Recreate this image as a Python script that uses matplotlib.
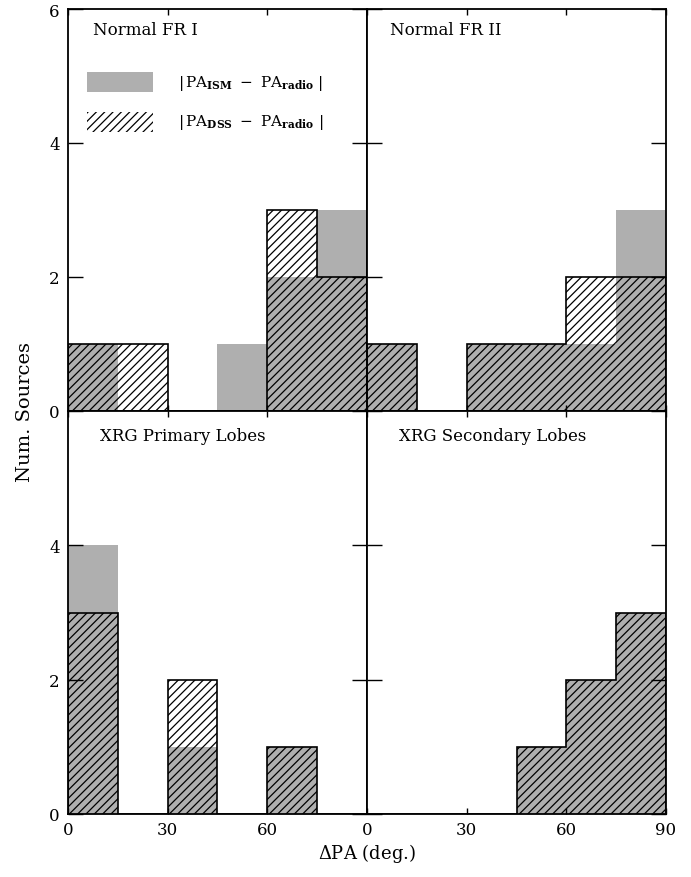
import numpy as np
import matplotlib
matplotlib.use('Agg')
import matplotlib.pyplot as plt
from matplotlib.patches import Rectangle

plt.rcParams['font.family'] = ['DejaVu Serif']
plt.rcParams['mathtext.fontset'] = 'dejavuserif'
plt.rcParams['hatch.linewidth'] = 0.9

# bin edges in degrees
edges = [0, 15, 30, 45, 60, 75, 90]

panel_titles = ['Normal FR I', 'Normal FR II', 'XRG Primary Lobes', 'XRG Secondary Lobes']

# |PA_ISM - PA_radio| counts per bin
ism_fr1 = [1, 0, 0, 1, 2, 3]
ism_fr2 = [1, 0, 1, 1, 1, 3]
ism_xrg_pri = [4, 0, 1, 0, 1, 0]
ism_xrg_sec = [0, 0, 0, 1, 2, 3]

# |PA_DSS - PA_radio| counts per bin
dss_fr1 = [1, 1, 0, 0, 3, 2]
dss_fr2 = [1, 0, 1, 1, 2, 2]
dss_xrg_pri = [3, 0, 2, 0, 1, 0]
dss_xrg_sec = [0, 0, 0, 1, 2, 3]

ism_all = [ism_fr1, ism_fr2, ism_xrg_pri, ism_xrg_sec]
dss_all = [dss_fr1, dss_fr2, dss_xrg_pri, dss_xrg_sec]

gray = '#afafaf'
hatch = '////'

fig = plt.figure(figsize=(6.91, 8.78), dpi=100)
W, H = 691.0, 878.0
x0, xm, x1 = 68, 367, 666
y0, ym, y1 = 10, 412, 815

boxes = [(x0, y0, xm, ym), (xm, y0, x1, ym), (x0, ym, xm, y1), (xm, ym, x1, y1)]
title_pos = [(0.084, 0.95), (0.077, 0.95), (0.107, 0.938), (0.107, 0.938)]

axes = []
for i, (l, t, r, b) in enumerate(boxes):
    ax = fig.add_axes([l / W, 1 - b / H, (r - l) / W, (b - t) / H])
    axes.append(ax)
    ax.stairs(ism_all[i], edges, fill=True, color=gray, linewidth=0)
    ax.stairs(dss_all[i], edges, fill=True, facecolor='none', edgecolor='black',
              hatch=hatch, linewidth=1.2)
    ax.set_xlim(0, 90)
    ax.set_ylim(0, 6)
    ax.set_xticks([0, 30, 60, 90])
    ax.set_yticks([0, 2, 4, 6])
    ax.tick_params(axis='both', direction='in', top=True, right=True, labelsize=12, width=1)
    ax.tick_params(axis='x', length=4, pad=5)
    ax.tick_params(axis='y', length=11, pad=6)
    for s in ax.spines.values():
        s.set_linewidth(1.3)
    ax.text(title_pos[i][0], title_pos[i][1], panel_titles[i], transform=ax.transAxes,
            fontsize=12, ha='left', va='center')
    if i in (0, 1):
        ax.set_xticklabels([])
    if i in (1, 3):
        ax.set_yticklabels([])
    if i == 2:
        ax.set_xticklabels(['0', '30', '60', ''])
        ax.set_yticklabels(['0', '2', '4', ''])

# legend drawn inside the first panel
ax = axes[0]
ax.add_patch(Rectangle((0.064, 0.794), 0.22, 0.049, transform=ax.transAxes,
                       facecolor=gray, edgecolor='none'))
ax.add_patch(Rectangle((0.064, 0.694), 0.22, 0.049, transform=ax.transAxes,
                       facecolor='none', edgecolor='black', hatch=hatch, linewidth=0))
ax.text(0.368, 0.818, r'$|\,\mathrm{PA}_{\mathbf{ISM}}\ -\ \mathrm{PA}_{\mathbf{radio}}\ |$',
        transform=ax.transAxes, fontsize=11, ha='left', va='center')
ax.text(0.368, 0.719, r'$|\,\mathrm{PA}_{\mathbf{DSS}}\ -\ \mathrm{PA}_{\mathbf{radio}}\ |$',
        transform=ax.transAxes, fontsize=11, ha='left', va='center')

fig.text(25 / W, 1 - 412 / H, 'Num. Sources', rotation=90, ha='center', va='center', fontsize=14)
fig.text(367 / W, 1 - 854 / H, r'$\Delta$PA (deg.)', ha='center', va='center', fontsize=13)

fig.savefig('out.png', dpi=100)
